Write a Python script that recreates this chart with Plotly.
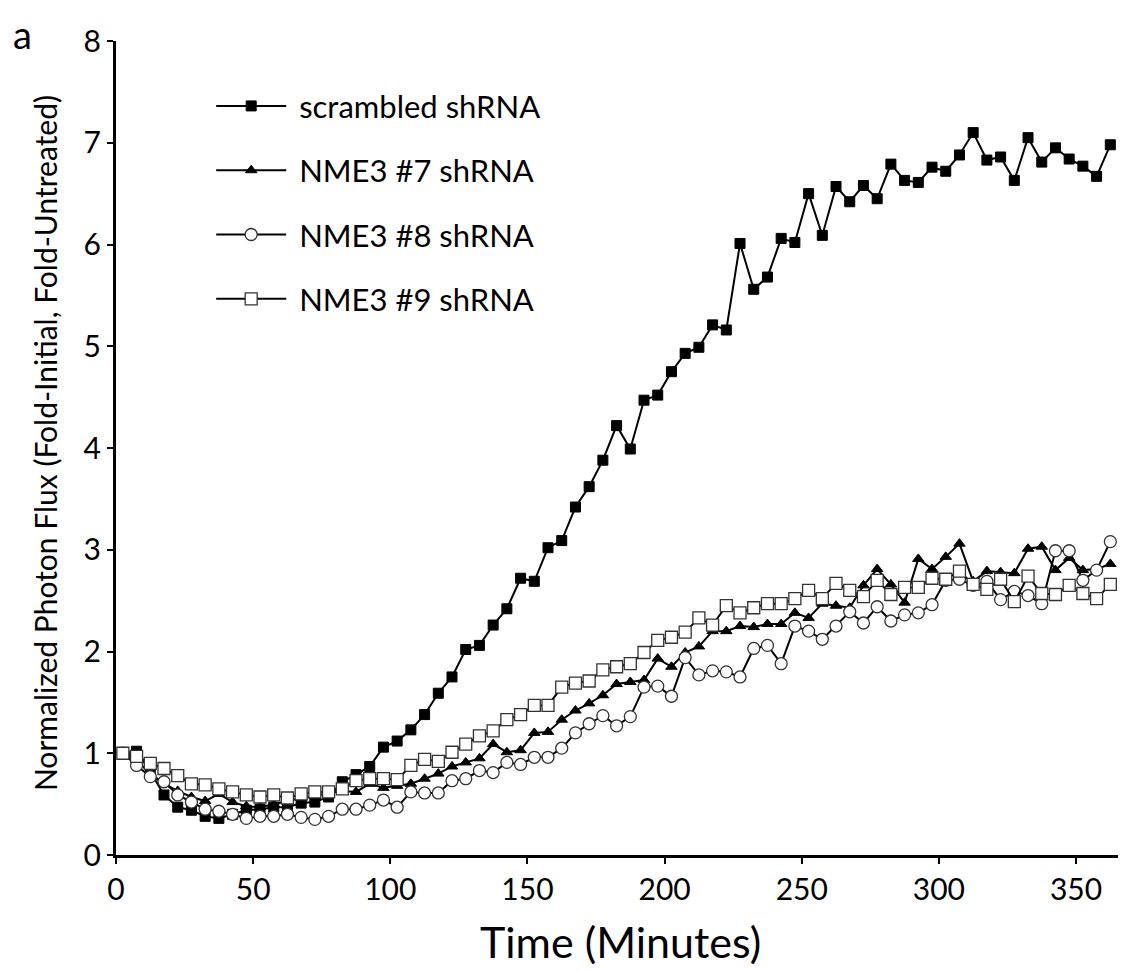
import plotly.graph_objects as go

time_min = [2.5, 7.5, 12.5, 17.5, 22.5, 27.5, 32.5, 37.5, 42.5, 47.5,
            52.5, 57.5, 62.5, 67.5, 72.5, 77.5, 82.5, 87.5, 92.5, 97.5,
            102.5, 107.5, 112.5, 117.5, 122.5, 127.5, 132.5, 137.5, 142.5, 147.5,
            152.5, 157.5, 162.5, 167.5, 172.5, 177.5, 182.5, 187.5, 192.5, 197.5,
            202.5, 207.5, 212.5, 217.5, 222.5, 227.5, 232.5, 237.5, 242.5, 247.5,
            252.5, 257.5, 262.5, 267.5, 272.5, 277.5, 282.5, 287.5, 292.5, 297.5,
            302.5, 307.5, 312.5, 317.5, 322.5, 327.5, 332.5, 337.5, 342.5, 347.5,
            352.5, 357.5, 362.5]

scrambled = [1.00, 1.02, 0.82, 0.59, 0.47, 0.44, 0.38, 0.36, 0.40, 0.44,
             0.45, 0.47, 0.47, 0.51, 0.52, 0.57, 0.72, 0.79, 0.87, 1.06,
             1.12, 1.23, 1.38, 1.59, 1.75, 2.02, 2.06, 2.26, 2.42, 2.72,
             2.69, 3.02, 3.09, 3.42, 3.62, 3.88, 4.22, 3.99, 4.47, 4.52,
             4.75, 4.93, 4.99, 5.21, 5.16, 6.01, 5.56, 5.68, 6.06, 6.02,
             6.50, 6.09, 6.57, 6.42, 6.58, 6.45, 6.79, 6.63, 6.61, 6.76,
             6.72, 6.88, 7.10, 6.83, 6.86, 6.63, 7.05, 6.81, 6.95, 6.84,
             6.77, 6.67, 6.98]

nme3_7 = [1.00, 0.93, 0.80, 0.70, 0.63, 0.57, 0.53, 0.60, 0.52, 0.48,
          0.47, 0.50, 0.53, 0.56, 0.58, 0.61, 0.63, 0.62, 0.70, 0.66,
          0.68, 0.70, 0.75, 0.80, 0.87, 0.91, 0.95, 1.09, 1.01, 1.03,
          1.20, 1.21, 1.33, 1.42, 1.49, 1.57, 1.68, 1.70, 1.72, 1.93,
          1.85, 1.99, 2.05, 2.20, 2.20, 2.25, 2.24, 2.27, 2.27, 2.38,
          2.33, 2.47, 2.45, 2.43, 2.65, 2.81, 2.66, 2.48, 2.91, 2.81,
          2.93, 3.06, 2.69, 2.79, 2.78, 2.77, 3.01, 3.03, 2.80, 2.92,
          2.80, 2.81, 2.86]

nme3_8 = [1.00, 0.88, 0.77, 0.72, 0.59, 0.52, 0.45, 0.43, 0.40, 0.36,
          0.38, 0.38, 0.40, 0.37, 0.35, 0.38, 0.45, 0.45, 0.49, 0.54,
          0.47, 0.62, 0.61, 0.61, 0.73, 0.75, 0.83, 0.81, 0.91, 0.89,
          0.96, 0.96, 1.05, 1.20, 1.29, 1.37, 1.27, 1.36, 1.65, 1.66,
          1.56, 1.94, 1.77, 1.81, 1.80, 1.75, 2.03, 2.06, 1.88, 2.25,
          2.20, 2.12, 2.25, 2.39, 2.28, 2.44, 2.30, 2.36, 2.38, 2.46,
          2.70, 2.71, 2.65, 2.69, 2.51, 2.59, 2.55, 2.47, 2.99, 2.99,
          2.70, 2.80, 3.08]

nme3_9 = [1.00, 0.97, 0.90, 0.85, 0.78, 0.70, 0.69, 0.65, 0.62, 0.59,
          0.57, 0.59, 0.56, 0.60, 0.62, 0.62, 0.65, 0.73, 0.75, 0.75,
          0.74, 0.88, 0.94, 0.92, 1.01, 1.09, 1.17, 1.22, 1.33, 1.38,
          1.47, 1.47, 1.65, 1.69, 1.71, 1.82, 1.85, 1.88, 1.99, 2.11,
          2.14, 2.19, 2.33, 2.26, 2.45, 2.38, 2.43, 2.47, 2.47, 2.52,
          2.60, 2.52, 2.67, 2.60, 2.54, 2.70, 2.56, 2.63, 2.63, 2.72,
          2.71, 2.79, 2.66, 2.61, 2.71, 2.49, 2.74, 2.57, 2.56, 2.65,
          2.57, 2.52, 2.66]

series_names = ["scrambled shRNA", "NME3 #7 shRNA", "NME3 #8 shRNA", "NME3 #9 shRNA"]
x_ticks = [0, 50, 100, 150, 200, 250, 300, 350]
y_ticks = [0, 1, 2, 3, 4, 5, 6, 7, 8]

FONT = "Lato"
styles = [
    dict(symbol="square", size=10, color="black", line=dict(color="black", width=1)),
    dict(symbol="triangle-up", size=10, color="black", line=dict(color="black", width=1)),
    dict(symbol="circle", size=12, color="white", line=dict(color="#333333", width=1.3)),
    dict(symbol="square", size=12, color="white", line=dict(color="#333333", width=1.3)),
]

fig = go.Figure()
for i, (name, ys) in enumerate(zip(series_names, [scrambled, nme3_7, nme3_8, nme3_9])):
    fig.add_trace(go.Scatter(
        x=time_min, y=ys, name="\u00a0" + name, mode="lines+markers",
        line=dict(color="black", width=2),
        marker=styles[i],
        legendgroup=f"g{i}",
    ))

# page body has an 8px default margin, so the figure is 8px smaller
fig.update_layout(
    width=1118, height=963,
    margin=dict(l=108, r=8, t=33, b=116),
    paper_bgcolor="white", plot_bgcolor="white",
    font=dict(family=FONT, color="black"),
    showlegend=True,
    legend=dict(
        x=0.095, y=0.953, xanchor="left", yanchor="top",
        font=dict(family=FONT, size=31, color="black"),
        itemwidth=70, tracegroupgap=21, traceorder="grouped",
        bgcolor="rgba(0,0,0,0)",
    ),
    xaxis=dict(
        range=[0, 365.3], tickvals=x_ticks, ticktext=[str(v) for v in x_ticks],
        showline=True, linecolor="black", linewidth=3, mirror=False,
        ticks="outside", ticklen=6, tickwidth=2, tickcolor="black",
        showgrid=False, zeroline=False,
        tickfont=dict(family=FONT, size=30, color="black"),
    ),
    yaxis=dict(
        range=[0, 8], tickvals=y_ticks, ticktext=[str(v) for v in y_ticks],
        showline=True, linecolor="black", linewidth=3, mirror=False,
        ticks="outside", ticklen=6, tickwidth=2, tickcolor="black",
        showgrid=False, zeroline=False,
        tickfont=dict(family=FONT, size=30, color="black"),
    ),
    annotations=[
        dict(text="Time (Minutes)", x=0.503, y=-0.1057, xref="paper", yref="paper",
             showarrow=False, font=dict(family=FONT, size=43, color="black"),
             xanchor="center", yanchor="middle"),
        dict(text="Normalized Photon Flux (Fold-Initial, Fold-Untreated)", x=-0.0709, y=0.506,
             xref="paper", yref="paper", textangle=-90, showarrow=False,
             font=dict(family=FONT, size=30, color="black"),
             xanchor="center", yanchor="middle"),
        dict(text="a", x=-0.0938, y=1.0395, xref="paper", yref="paper", showarrow=False,
             font=dict(family=FONT, size=38, color="black"),
             xanchor="center", yanchor="top"),
    ],
)

fig.write_html("out.html")
